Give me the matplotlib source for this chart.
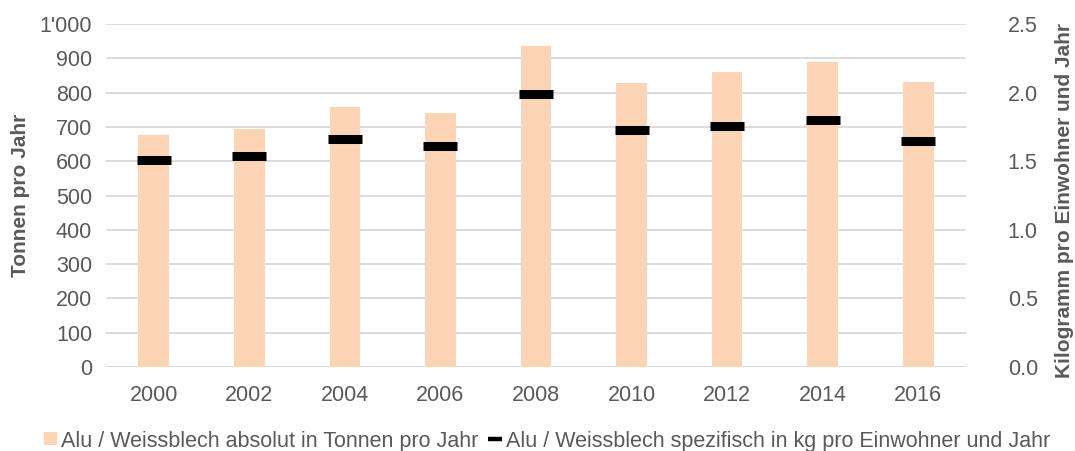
import numpy as np
import matplotlib.pyplot as plt
from matplotlib.ticker import FuncFormatter
from matplotlib.lines import Line2D
from matplotlib.patches import Patch

plt.rcParams["font.family"] = ["Liberation Sans", "DejaVu Sans"]

years = ["2000", "2002", "2004", "2006", "2008", "2010", "2012", "2014", "2016"]
tonnen = [676, 694, 758, 740, 936, 828, 860, 889, 831]
kg_pro_ew = [1.51, 1.54, 1.66, 1.61, 1.99, 1.73, 1.76, 1.80, 1.65]

grey = "#595959"
bar_col = "#FBD5B5"
lbl_bar = "Alu / Weissblech absolut in Tonnen pro Jahr"
lbl_kg = "Alu / Weissblech spezifisch in kg pro Einwohner und Jahr"

fig = plt.figure(figsize=(10.75, 4.51), dpi=100)
ax = fig.add_axes([106 / 1075, 1 - 367 / 451, 860 / 1075, 343 / 451])
ax2 = ax.twinx()

x = np.arange(len(years))
ax.bar(x, tonnen, width=0.32, color=bar_col, zorder=2)
ax2.plot(x, kg_pro_ew, linestyle="none", marker="_", markersize=24,
         markeredgewidth=6.5, color="black", zorder=3)

ax.set_xlim(-0.5, len(years) - 0.5)
ax.set_ylim(0, 1000)
ax.set_yticks(np.arange(0, 1001, 100))
ax.yaxis.set_major_formatter(FuncFormatter(lambda v, p: "1'000" if v == 1000 else f"{int(v)}"))
ax2.set_ylim(0, 2.5)
ax2.set_yticks(np.arange(0, 2.51, 0.5))
ax2.yaxis.set_major_formatter(FuncFormatter(lambda v, p: f"{v:.1f}"))

ax.set_xticks(x)
ax.set_xticklabels(years)
ax.grid(axis="y", color="#d9d9d9", linewidth=1.3, zorder=0)
ax.set_axisbelow(True)

for a in (ax, ax2):
    for s in a.spines.values():
        s.set_visible(False)
    a.tick_params(length=0, labelsize=15.5, labelcolor=grey)
ax.tick_params(axis="y", pad=10)
ax.tick_params(axis="x", pad=13)
ax2.tick_params(axis="y", pad=30)

# axis titles placed in figure pixels to match the reference
fig.text(21 / 1075, 1 - 195 / 451, "Tonnen pro Jahr", rotation=90, ha="center",
         va="center", fontsize=15, fontweight="bold", color=grey)
fig.text(1065 / 1075, 1 - 200 / 451, "Kilogramm pro Einwohner und Jahr", rotation=90,
         ha="center", va="center", fontsize=15, fontweight="bold", color=grey)

handles = [
    Patch(facecolor=bar_col, edgecolor="none"),
    Line2D([], [], linestyle="none", marker="_", markersize=10,
           markeredgewidth=3.2, color="black"),
]
leg = fig.legend(handles, [lbl_bar, lbl_kg], loc="center",
                 bbox_to_anchor=(547 / 1075, 1 - 441 / 451), ncol=2, frameon=False,
                 fontsize=15.5, handlelength=0.6, handleheight=0.55,
                 handletextpad=0.2, columnspacing=0.5)
for t in leg.get_texts():
    t.set_color(grey)

fig.savefig("out.png", dpi=100)
